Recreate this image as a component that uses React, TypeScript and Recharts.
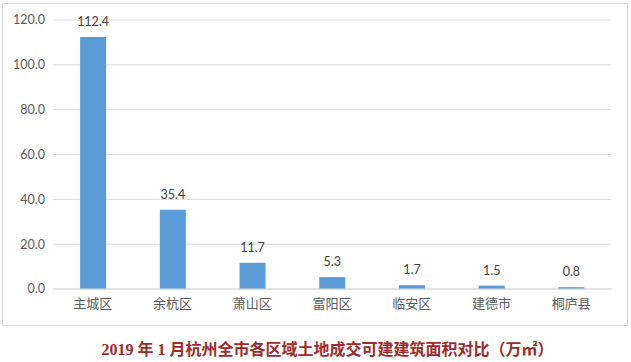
import { BarChart, Bar, XAxis, YAxis, CartesianGrid, LabelList } from 'recharts';

const districts = ['主城区', '余杭区', '萧山区', '富阳区', '临安区', '建德市', '桐庐县'];
const areas = [112.4, 35.4, 11.7, 5.3, 1.7, 1.5, 0.8];
const yTicks = [0, 20, 40, 60, 80, 100, 120];
const title = '2019 年 1 月杭州全市各区域土地成交可建建筑面积对比（万㎡）';

const data = districts.map((name, i) => ({ name, value: areas[i] }));

const FONT = "Lato, 'Noto Sans CJK SC', sans-serif";

export default function App() {
  return (
    <div style={{ position: 'absolute', left: 0, top: 0, width: 631, height: 362, background: '#fff' }}>
      <div
        style={{
          position: 'absolute',
          left: 2,
          top: 3,
          width: 624,
          height: 321,
          border: '1px solid #d9d9d9',
        }}
      />
      <div style={{ position: 'absolute', left: 0, top: 0 }}>
        <BarChart
          width={631}
          height={330}
          data={data}
          margin={{ top: 20, right: 20, bottom: 11, left: 0 }}
          barCategoryGap="34%"
        >
          <CartesianGrid vertical={false} stroke="#d9d9d9" strokeWidth={1} />
          <XAxis
            dataKey="name"
            height={30}
            axisLine={{ stroke: '#d9d9d9' }}
            tickLine={false}
            tickMargin={4}
            tick={{ fontSize: 13, fill: '#595959', fontFamily: FONT }}
            interval={0}
          />
          <YAxis
            width={53}
            domain={[0, 120]}
            ticks={yTicks}
            axisLine={false}
            tickLine={false}
            tick={{ fontSize: 12.5, fill: '#595959', fontFamily: FONT }}
            tickFormatter={(v) => Number(v).toFixed(1)}
          />
          <Bar dataKey="value" fill="#5b9bd5" isAnimationActive={false}>
            <LabelList
              dataKey="value"
              position="top"
              offset={11}
              style={{ fontSize: 12.5, fill: '#404040', fontFamily: FONT }}
              formatter={(v: unknown) => Number(v).toFixed(1)}
            />
          </Bar>
        </BarChart>
      </div>
      <div
        style={{
          position: 'absolute',
          left: 12,
          top: 340,
          width: 631,
          textAlign: 'center',
          fontFamily: "'Liberation Serif', 'Noto Sans CJK SC', serif",
          fontWeight: 'bold',
          fontSize: 16,
          color: '#9e2a2b',
          lineHeight: '20px',
        }}
      >
        {title}
      </div>
    </div>
  );
}
